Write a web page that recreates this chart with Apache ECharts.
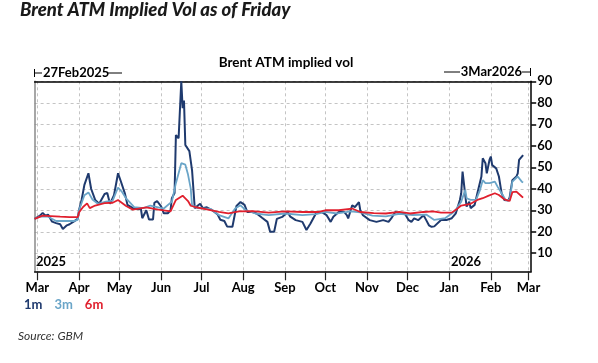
<!DOCTYPE html>
<html><head><meta charset="utf-8">
<script src="https://cdn.jsdelivr.net/npm/echarts@6/dist/echarts.min.js"></script>
<style>html,body{margin:0;padding:0;background:#fff}#c{width:598px;height:363px}</style>
</head><body><div id="c"></div>
<script>
const dates1m = ['2025-02-27','2025-02-28','2025-03-03','2025-03-05','2025-03-07','2025-03-09','2025-03-12','2025-03-15','2025-03-18','2025-03-20','2025-03-23','2025-03-25','2025-03-28','2025-03-31',
'2025-04-01','2025-04-03','2025-04-05','2025-04-08','2025-04-09','2025-04-10','2025-04-13','2025-04-16','2025-04-20','2025-04-22','2025-04-24','2025-04-27','2025-04-30',
'2025-05-02','2025-05-05','2025-05-07','2025-05-12','2025-05-17','2025-05-18','2025-05-21','2025-05-23','2025-05-26','2025-05-27','2025-05-29',
'2025-06-01','2025-06-03','2025-06-06','2025-06-08','2025-06-09','2025-06-11','2025-06-12','2025-06-14','2025-06-16','2025-06-17','2025-06-18','2025-06-19','2025-06-22','2025-06-24','2025-06-26','2025-06-27','2025-06-30',
'2025-07-02','2025-07-05','2025-07-09','2025-07-13','2025-07-15','2025-07-18','2025-07-20','2025-07-24','2025-07-25','2025-07-27','2025-07-30',
'2025-08-02','2025-08-04','2025-08-08','2025-08-11','2025-08-15','2025-08-19','2025-08-21','2025-08-24','2025-08-26','2025-08-30',
'2025-09-03','2025-09-05','2025-09-09','2025-09-14','2025-09-17','2025-09-20','2025-09-24','2025-09-28',
'2025-10-02','2025-10-05','2025-10-07','2025-10-11','2025-10-15','2025-10-17','2025-10-18','2025-10-21','2025-10-23','2025-10-26','2025-10-27','2025-10-29',
'2025-11-03','2025-11-08','2025-11-13','2025-11-17','2025-11-19','2025-11-22','2025-11-27','2025-11-29',
'2025-12-02','2025-12-04','2025-12-06','2025-12-09','2025-12-13','2025-12-15','2025-12-17','2025-12-19','2025-12-21','2025-12-26','2025-12-30',
'2026-01-03','2026-01-06','2026-01-09','2026-01-10','2026-01-11','2026-01-13','2026-01-14','2026-01-16','2026-01-17','2026-01-20','2026-01-22','2026-01-25','2026-01-26','2026-01-28','2026-01-29','2026-01-31',
'2026-02-01','2026-02-02','2026-02-05','2026-02-07','2026-02-09','2026-02-11','2026-02-14','2026-02-15','2026-02-17','2026-02-20','2026-02-21','2026-02-22','2026-02-25'];
const vol1m = [26,26.5,27.5,28.8,27.5,28,24.7,24,23.5,21.3,23,23.5,24.7,26,
30,35,41.8,47.2,43.6,40,34.8,33,37.6,38,33,37,47.2,
43.6,38,32.5,30.6,30.6,26.3,30,25.7,25.7,33.5,34.3,
31.8,28.6,28.6,30,35.6,38,65,63.5,90,77.5,81,60.4,57.5,48.6,31,31.5,33,
31,31.4,30,28,25.6,25,22.5,22.3,22.3,32,33.8,
32.5,29.2,29.2,28.5,26.5,24.6,20,20,26,26.9,
29.2,27,25.4,24.6,20.8,23.8,28.5,29.2,
27.7,24.6,27,29.2,29.2,27.7,26.2,32.3,31.5,33.8,30,27.7,
25.4,24.6,25.4,24.6,26.2,29.2,28.5,28.5,
25.4,24.6,26.2,25.4,27.7,25.4,23,22.3,22.5,25.5,25.5,
26.3,28.6,34.8,37.9,48,37,31.7,34,31,32.5,37.9,45.7,54.2,51.9,47.2,53.4,
55,51,49.5,45.7,38,34.8,34.5,36,44,45.7,47.2,53.4,55.7];

const dates3m = ['2025-02-27','2025-03-03','2025-03-09','2025-03-15','2025-03-21','2025-03-28','2025-03-31','2025-04-01','2025-04-05','2025-04-08','2025-04-11','2025-04-15','2025-04-21','2025-04-26','2025-04-30',
'2025-05-03','2025-05-06','2025-05-12','2025-05-19','2025-05-24','2025-06-03','2025-06-09','2025-06-12','2025-06-16','2025-06-19','2025-06-21','2025-06-23','2025-06-24','2025-06-28',
'2025-07-08','2025-07-14','2025-07-21','2025-07-26','2025-07-30','2025-08-03','2025-08-10','2025-08-20','2025-09-01','2025-09-14','2025-09-24',
'2025-10-01','2025-10-10','2025-10-20','2025-10-27','2025-11-05','2025-11-15','2025-11-25','2025-12-05','2025-12-15','2025-12-21','2025-12-29',
'2026-01-05','2026-01-10','2026-01-13','2026-01-14','2026-01-17','2026-01-21','2026-01-24','2026-01-26','2026-01-28','2026-01-31',
'2026-02-04','2026-02-06','2026-02-09','2026-02-12','2026-02-15','2026-02-17','2026-02-21','2026-02-22','2026-02-24','2026-02-25'];
const vol3m = [26,27,27,25,25,25,25.5,30,37,38.3,35,33,34,34.5,40.6,
38.5,35.5,31.5,31,32.2,30.8,34,42.6,51.9,51.2,46.6,40.2,32.3,31,
30.6,27.7,26.2,30.8,32.3,30,28.5,27.7,28.5,27.7,28.2,
29.2,28.5,29.5,29,27.5,27.2,28.3,27.8,28,25.5,26.3,
29.4,34,39.5,35.6,34.8,34.8,39.5,44,42.6,42.6,
43.3,41,37.9,34.8,34.8,43.3,45.7,46.4,43.3,42.9];

const dates6m = ['2025-02-27','2025-03-05','2025-03-11','2025-03-18','2025-03-25','2025-03-31','2025-04-01','2025-04-04','2025-04-07','2025-04-09','2025-04-13','2025-04-20','2025-04-26','2025-04-30',
'2025-05-06','2025-05-11','2025-05-21','2025-05-30','2025-06-08','2025-06-12','2025-06-17','2025-06-21','2025-06-23','2025-06-27',
'2025-07-04','2025-07-14','2025-07-21','2025-07-29','2025-08-08','2025-08-20','2025-09-01','2025-09-14','2025-09-26',
'2025-10-01','2025-10-11','2025-10-21','2025-10-27','2025-11-06','2025-11-15','2025-11-25','2025-12-03','2025-12-13','2025-12-20','2025-12-26',
'2026-01-03','2026-01-06','2026-01-10','2026-01-17','2026-01-22','2026-01-26','2026-01-30',
'2026-02-04','2026-02-07','2026-02-11','2026-02-15','2026-02-17','2026-02-20','2026-02-24','2026-02-25'];
const vol6m = [26,27.5,27.3,27,26.8,26.8,29,31.5,33.2,31,32.2,33.3,33.5,34.8,
32,30.3,31.3,30.3,29.5,34.8,36.8,34.3,32.1,31.4,
30.5,29.2,28.5,29.5,29.6,28.9,29.5,29.2,29.2,
30,30,30.8,29.2,28.7,28.5,29.2,28.5,29.2,29.5,28.9,
28.9,30.2,32.2,33,34.8,35.6,36.7,
37.9,37.1,35.1,34.3,38.4,38.7,36.4,35.9];

const monthTicks = ['2025-03-01','2025-04-01','2025-05-01','2025-06-01','2025-07-01','2025-08-01','2025-09-01','2025-10-01','2025-11-01','2025-12-01','2026-01-01','2026-02-01','2026-03-01'];
const monthNames = ['Jan','Feb','Mar','Apr','May','Jun','Jul','Aug','Sep','Oct','Nov','Dec'];
const yTicks = [10,20,30,40,50,60,70,80,90];
const xStart = '2025-02-27', xEnd = '2026-03-03';
const seriesNames = ['1m','3m','6m'];
const seriesColors = ['#1f3a6e','#6aa5c8','#e01f2d'];

function toTs(s){const p=s.split('-');return new Date(+p[0],+p[1]-1,+p[2]).getTime();}
function pairs(ds,vs){return ds.map((d,i)=>[toTs(d),vs[i]]);}
const monthTs = monthTicks.map(toTs);
const F = 'Lato';

const chart = echarts.init(document.getElementById('c'), null, {renderer:'canvas'});
const gridL=34.6, gridR=531.2, gridT=81.3, gridB=271.3;
chart.setOption({
  animation:false,
  backgroundColor:'#fff',
  textStyle:{fontFamily:F},
  grid:{left:gridL,right:598-gridR,top:gridT,bottom:363-gridB,containLabel:false},
  legend:{
    left:19, top:298, itemWidth:0, itemHeight:0, itemGap:7, padding:0,
    textStyle:{fontFamily:F,fontWeight:'bold',fontSize:13},
    data:seriesNames.map((n,i)=>({name:n,icon:'none',textStyle:{color:seriesColors[i]}}))
  },
  xAxis:[{
    type:'value', min:toTs(xStart), max:toTs(xEnd), position:'bottom',
    axisLine:{show:true,lineStyle:{color:'#000',width:1.5}},
    axisTick:{show:true,customValues:monthTs,length:9,lineStyle:{color:'#222',width:1.2}},
    axisLabel:{customValues:monthTs,formatter:v=>monthNames[new Date(v).getMonth()],fontFamily:F,fontWeight:'bold',fontSize:13,color:'#000',margin:10},
    splitLine:{show:true,lineStyle:{color:'#c4c4c4',type:[3,3],width:1}}
  },{
    type:'value', min:toTs(xStart), max:toTs(xEnd), position:'top',
    axisLine:{show:true,lineStyle:{color:'#000',width:1.5}},
    axisTick:{show:false},axisLabel:{show:false},splitLine:{show:false}
  }],
  yAxis:[{
    type:'value', min:1.6, max:90, position:'right',
    axisLine:{show:true,lineStyle:{color:'#000',width:1.5}},
    axisTick:{show:true,customValues:yTicks,length:5,lineStyle:{color:'#000',width:1.5}},
    axisLabel:{customValues:yTicks,fontFamily:F,fontWeight:'bold',fontSize:13,color:'#000',margin:6},
    splitLine:{show:true,lineStyle:{color:'#c4c4c4',type:[3,3],width:1}}
  },{
    type:'value', min:1.6, max:90, position:'left',
    axisLine:{show:true,lineStyle:{color:'#8a8a8a',width:1.5}},
    axisTick:{show:false},axisLabel:{show:false},splitLine:{show:false}
  }],
  series:[
    {name:'1m',type:'line',data:pairs(dates1m,vol1m),showSymbol:false,lineStyle:{color:seriesColors[0],width:2},itemStyle:{color:seriesColors[0]},z:2},
    {name:'3m',type:'line',data:pairs(dates3m,vol3m),showSymbol:false,lineStyle:{color:seriesColors[1],width:1.8},itemStyle:{color:seriesColors[1]},z:3},
    {name:'6m',type:'line',data:pairs(dates6m,vol6m),showSymbol:false,lineStyle:{color:seriesColors[2],width:1.8},itemStyle:{color:seriesColors[2]},z:4}
  ],
  graphic:[
    {type:'text',left:20,top:1,style:{text:'Brent ATM Implied Vol as of Friday',font:'italic 900 18.5px '+F,fill:'#1a1a1a'}},
    {type:'text',x:286,y:63,style:{text:'Brent ATM implied vol',font:'bold 13.5px '+F,fill:'#000',align:'center',verticalAlign:'middle'}},
    {type:'line',shape:{x1:34.5,y1:69,x2:34.5,y2:77},style:{stroke:'#000',lineWidth:1}},
    {type:'line',shape:{x1:35,y1:73,x2:42,y2:73},style:{stroke:'#000',lineWidth:1}},
    {type:'text',x:43,y:73,style:{text:'27Feb2025',font:'bold 13px '+F,fill:'#000',align:'left',verticalAlign:'middle'}},
    {type:'line',shape:{x1:108,y1:73,x2:122,y2:73},style:{stroke:'#000',lineWidth:1}},
    {type:'line',shape:{x1:444,y1:72,x2:460,y2:72},style:{stroke:'#000',lineWidth:1}},
    {type:'text',x:522,y:72,style:{text:'3Mar2026',font:'bold 13px '+F,fill:'#000',align:'right',verticalAlign:'middle'}},
    {type:'line',shape:{x1:522,y1:72,x2:530,y2:72},style:{stroke:'#000',lineWidth:1}},
    {type:'line',shape:{x1:530.5,y1:68,x2:530.5,y2:76},style:{stroke:'#000',lineWidth:1}},
    {type:'text',x:36,y:262,style:{text:'2025',font:'bold 13px '+F,fill:'#000',align:'left',verticalAlign:'middle'}},
    {type:'text',x:451,y:262,style:{text:'2026',font:'bold 13px '+F,fill:'#000',align:'left',verticalAlign:'middle'}},
    {type:'text',x:18,y:336,style:{text:'Source: GBM',font:'italic 12px '+F,fill:'#333',align:'left',verticalAlign:'middle'}}
  ]
});
</script></body></html>
